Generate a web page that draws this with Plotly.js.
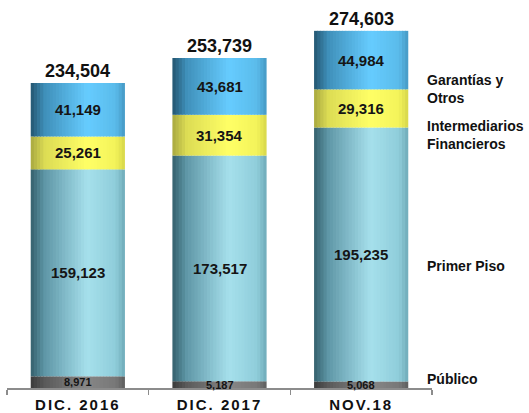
<!DOCTYPE html>
<html><head><meta charset="utf-8">
<script src="https://cdn.plot.ly/plotly-3.0.1.min.js"></script>
<style>html,body{margin:0;padding:0;background:#fff;} .xtick text{letter-spacing:2px;}</style>
</head><body><div id="chart" style="width:529px;height:413px;"></div>
<script>
// ---- data ----
const categories = ['DIC. 2016', 'DIC. 2017', 'NOV.18'];
const publico = [8971, 5187, 5068];
const primerPiso = [159123, 173517, 195235];
const intermediarios = [25261, 31354, 29316];
const garantias = [41149, 43681, 44984];
const totals = [234504, 253739, 274603];
const seriesLabels = ['Público', 'Primer Piso', 'Intermediarios<br>Financieros', 'Garantías y<br>Otros'];

// ---- styling ----
const FONT = 'Liberation Sans, Arial, sans-serif';
const gradients = [
  [[0,'#3a3a3a'],[0.15,'#5a5a5a'],[0.6,'#868686'],[0.9,'#787878'],[1,'#5e5e5e']],
  [[0,'#34606d'],[0.15,'#5f97a7'],[0.6,'#a6e0ec'],[0.9,'#8fcdda'],[1,'#6eaab8']],
  [[0,'#a8a840'],[0.15,'#dcdc54'],[0.6,'#ffff66'],[0.9,'#f3f35a'],[1,'#d6d64a']],
  [[0,'#245670'],[0.15,'#3f90ba'],[0.6,'#66ccff'],[0.9,'#5abbea'],[1,'#4598c4']]
];
const seriesVals = [publico, primerPiso, intermediarios, garantias];

function hex2rgb(h){return [parseInt(h.slice(1,3),16),parseInt(h.slice(3,5),16),parseInt(h.slice(5,7),16)];}
function gradColor(stops, t){
  for(let k=0;k<stops.length-1;k++){
    const [t0,c0]=stops[k],[t1,c1]=stops[k+1];
    if(t>=t0 && t<=t1){
      const f=(t-t0)/(t1-t0), a=hex2rgb(c0), b=hex2rgb(c1);
      return 'rgb('+a.map((v,j)=>Math.round(v+(b[j]-v)*f)).join(',')+')';
    }
  }
  return stops[stops.length-1][1];
}

const W = 0.665, K = 30;
const traces = [];
const bases = [];
let running = categories.map(()=>0);
seriesVals.forEach((vals, s) => {
  const base = running.slice();
  bases.push(base);
  for(let i=0;i<K;i++){
    const t = (i+0.5)/K;
    traces.push({
      type:'bar', x:categories, y:vals, base:base,
      offset: -W/2 + i*W/K,
      width: i<K-1 ? W/K*1.25 : W/K,
      marker:{color:gradColor(gradients[s], t), line:{width:0}},
      hoverinfo:'skip', showlegend:false
    });
  }
  running = running.map((v,j)=>v+vals[j]);
});

const annotations = [];
// segment labels
seriesVals.forEach((vals, s) => {
  vals.forEach((v, j) => {
    annotations.push({
      x: categories[j], y: bases[s][j] + v/2, xref:'x', yref:'y',
      text: v.toLocaleString('en-US'), showarrow:false,
      font:{family:FONT, size: s===0 ? 11 : 15, color:'#151515', weight:'bold'}
    });
  });
});
// totals
totals.forEach((v, j) => {
  annotations.push({
    x: categories[j], y: v, xref:'x', yref:'y', yanchor:'bottom', yshift:0,
    text: v.toLocaleString('en-US'), showarrow:false,
    font:{family:FONT, size:18, color:'#111', weight:'bold'}
  });
});
// right-side series labels
const labelY = [0.023, 0.314, 0.653, 0.770];
seriesLabels.forEach((lab, s) => {
  annotations.push({
    x: 0.9835, y: labelY[s], xref:'paper', yref:'paper', xanchor:'left', yanchor:'middle',
    text: lab, align:'left', showarrow:false,
    font:{family:FONT, size:14, color:'#111', weight:'bold'}
  });
});

const layout = {
  width:529, height:413,
  margin:{l:7, r:97, t:0, b:25},
  paper_bgcolor:'#fff', plot_bgcolor:'#fff',
  barmode:'overlay', showlegend:false,
  xaxis:{type:'category', range:[-0.5, 2.5], showline:true, linecolor:'#8c8c8c', linewidth:1.5,
         ticks:'outside', tickson:'boundaries', ticklen:5, tickcolor:'#8c8c8c', tickwidth:1.5,
         ticklabelstandoff:2,
         showgrid:false, zeroline:false, fixedrange:true,
         tickfont:{family:FONT, size:15, color:'#111', weight:'bold'}},
  yaxis:{range:[0, 298320], visible:false, showgrid:false, zeroline:false, fixedrange:true},
  annotations: annotations
};
Plotly.newPlot('chart', traces, layout, {displayModeBar:false, staticPlot:true});
</script>
</body></html>
